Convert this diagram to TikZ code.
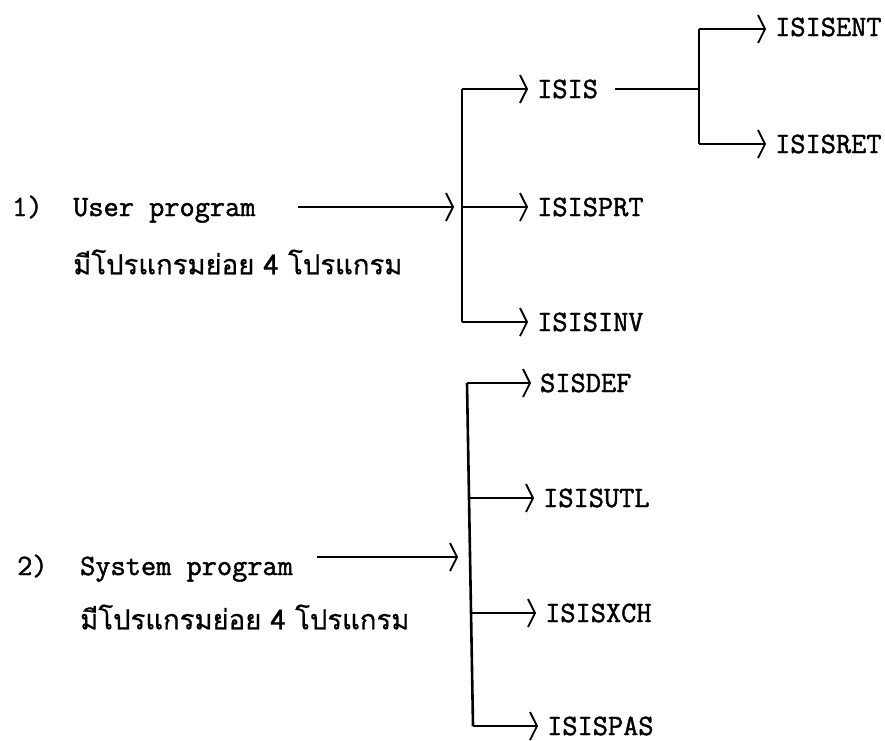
\documentclass[tikz,border=0pt]{standalone}
\usepackage{fontspec}
\newfontfamily\thaifont[Script=Thai,FakeBold=0.6]{Loma}
\newfontfamily\pmono[FakeBold=1.5]{Latin Modern Mono}
\usetikzlibrary{arrows.meta}
\begin{document}
\begin{tikzpicture}[x=1pt,y=-1pt,
  txt/.style={inner sep=0pt,anchor=west,font=\fontsize{29.5}{34}\selectfont\pmono,text height=18pt,text depth=0pt},
  lbl/.style={txt,inner xsep=0pt},
  thai/.style={inner sep=0pt,anchor=west,font=\fontsize{27.5}{32}\selectfont\thaifont},
  tip/.style={-{Straight Barb[length=7pt,width=28pt,line width=1.8pt]}},
  arr/.style={line width=1.8pt,shorten >=9pt,tip},
  arrp/.style={line width=1.8pt,tip},
  conn/.style={line width=1.8pt},
  bar/.style={line width=2.6pt}]
\useasboundingbox (0,0) rectangle (885,740);
% ---------- group 1 ----------
\node[txt] (n1) at (12,207) {1)};
\node[txt] (usr) at (73,207) {User program};
\node[thai] (th1) at (73,262) {มีโปรแกรมย่อย 4 โปรแกรม};
\coordinate (s1) at (298,207);
\coordinate (t1) at (454,207);
\draw[arrp] (s1) -- (t1);
\coordinate (j1a) at (462,89);
\coordinate (j1b) at (462,207);
\coordinate (j1c) at (462,322);
\draw[bar] (j1a) -- (j1c);
\node[lbl] (isis) at (537,89) {ISIS};
\node[lbl] (isisprt) at (537,207) {ISISPRT};
\node[lbl] (isisinv) at (537,322) {ISISINV};
\draw[arr] (j1a) -- (isis.west);
\draw[arr] (j1b) -- (isisprt.west);
\draw[arr] (j1c) -- (isisinv.west);
\coordinate (j2m) at (699,89);
\coordinate (j2a) at (699,29);
\coordinate (j2b) at (699,144);
\draw[conn] ([xshift=17pt]isis.east) -- (j2m);
\draw[bar] (j2a) -- (j2b);
\node[lbl] (isisent) at (775,27) {ISISENT};
\node[lbl] (isisret) at (775,144) {ISISRET};
\draw[arr] (j2a) -- (isisent.west |- j2a);
\draw[arr] (j2b) -- (isisret.west);
% ---------- group 2 ----------
\node[txt] (n2) at (17,566) {2)};
\node[txt] (sys) at (80,566) {System program};
\node[thai] (th2) at (80,617) {มีโปรแกรมย่อย 4 โปรแกรม};
\coordinate (s2) at (317,557);
\coordinate (t2) at (458,557);
\draw[arrp] (s2) -- (t2);
\coordinate (k1) at (467,383);
\coordinate (k2) at (469,498);
\coordinate (k3) at (471,613);
\coordinate (k4) at (473,726);
\draw[bar] (k1) -- (k4);
\node[lbl] (sisdef) at (540,383) {SISDEF};
\node[lbl] (isisutl) at (543,498) {ISISUTL};
\node[lbl] (isisxch) at (545,613) {ISISXCH};
\node[lbl] (isispas) at (547,726) {ISISPAS};
\draw[arr] (k1) -- (sisdef.west);
\draw[arr] (k2) -- (isisutl.west);
\draw[arr] (k3) -- (isisxch.west);
\draw[arr] (k4) -- (isispas.west);
\end{tikzpicture}
\end{document}
